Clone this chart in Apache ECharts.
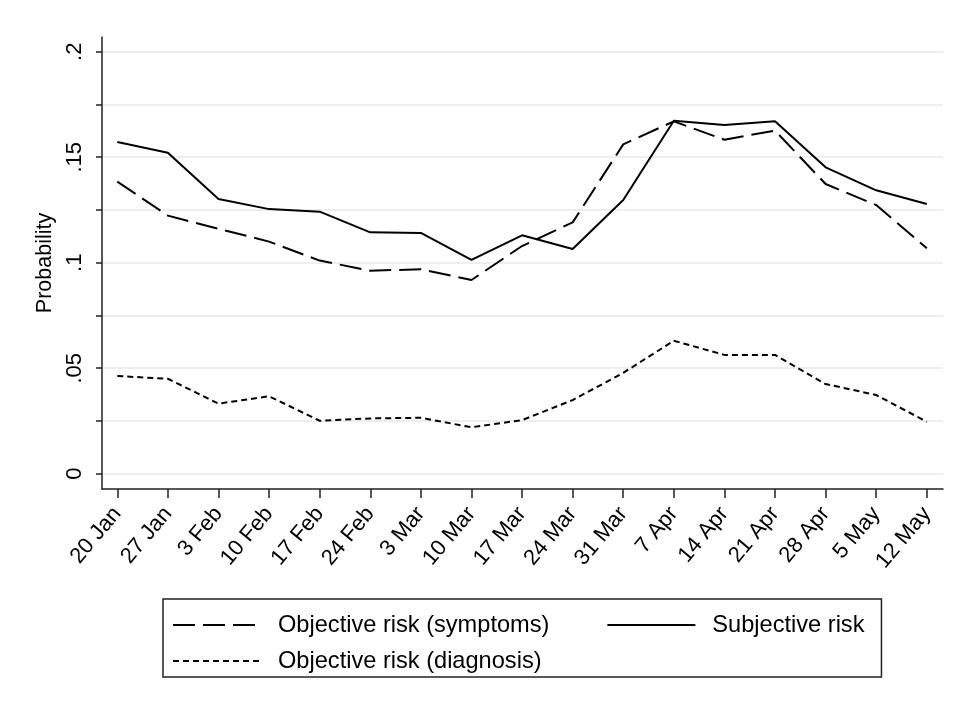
<!DOCTYPE html>
<html lang="en">
<head>
    <meta charset="UTF-8">
    <script src="https://cdn.jsdelivr.net/npm/echarts@6.0.0/dist/echarts.min.js"></script>
    <title>Probability by week</title>
    <style>
        html, body { margin: 0; padding: 0; background: #fff; }
        #main { width: 959px; height: 711px; }
    </style>
</head>
<body>
    <div id="main"></div>
    <script type="text/javascript">
        // weeks on the x axis
        let weeks = ['20 Jan', '27 Jan', '3 Feb', '10 Feb', '17 Feb', '24 Feb', '3 Mar', '10 Mar', '17 Mar',
            '24 Mar', '31 Mar', '7 Apr', '14 Apr', '21 Apr', '28 Apr', '5 May', '12 May'];

        let symptoms = [0.1384, 0.1223, 0.1161, 0.1100, 0.1010, 0.0962, 0.0969, 0.0918, 0.1079,
            0.1191, 0.1561, 0.1670, 0.1583, 0.1626, 0.1373, 0.1273, 0.1068];
        let subjective = [0.1572, 0.1521, 0.1302, 0.1254, 0.1242, 0.1144, 0.1141, 0.1013, 0.1130,
            0.1065, 0.1297, 0.1673, 0.1653, 0.1670, 0.1452, 0.1343, 0.1278];
        let diagnosis = [0.0463, 0.0450, 0.0332, 0.0367, 0.0251, 0.0262, 0.0265, 0.0220, 0.0254,
            0.0349, 0.0478, 0.0630, 0.0563, 0.0563, 0.0425, 0.0373, 0.0246];

        let yLabels = [0, 0.05, 0.1, 0.15, 0.2];
        let yTicks = [0, 0.025, 0.05, 0.075, 0.1, 0.125, 0.15, 0.175, 0.2];

        let font = "'Liberation Sans', Arial, sans-serif";
        let names = ['Objective risk (symptoms)', 'Subjective risk', 'Objective risk (diagnosis)'];

        function pairs(arr) {
            return arr.map(function (v, i) { return [i, v]; });
        }

        function yFmt(v) {
            if (v === 0) return '0';
            return String(+v.toFixed(3)).replace(/^0/, '');
        }

        let myChart = echarts.init(document.getElementById('main'), null, { renderer: 'canvas' });

        let legendText = { fontSize: 23.6, color: '#000', fontFamily: font, padding: [0, 0, 0, 12] };

        let option = {
            backgroundColor: '#fff',
            animation: false,
            textStyle: { fontFamily: font },
            grid: { left: 102, right: 16, top: 37, bottom: 222, containLabel: false },
            xAxis: {
                type: 'value',
                min: -0.302,
                max: 16.32,
                axisLine: { onZero: false, lineStyle: { color: '#222', width: 1.5 } },
                axisTick: {
                    customValues: weeks.map(function (w, i) { return i; }),
                    length: 9,
                    lineStyle: { color: '#222', width: 1.5 }
                },
                axisLabel: {
                    customValues: weeks.map(function (w, i) { return i; }),
                    rotate: 50,
                    margin: 21,
                    fontSize: 22,
                    color: '#000',
                    fontFamily: font,
                    formatter: function (v) { return weeks[Math.round(v)]; }
                },
                splitLine: { show: false }
            },
            yAxis: {
                type: 'value',
                min: -0.00725,
                max: 0.20697,
                name: 'Probability',
                nameLocation: 'middle',
                nameGap: 42,
                nameTextStyle: { fontSize: 21.5, color: '#000', fontFamily: font },
                axisLine: { show: true, onZero: false, lineStyle: { color: '#222', width: 1.5 } },
                axisTick: {
                    show: true,
                    customValues: yTicks,
                    length: 6,
                    lineStyle: { color: '#222', width: 1.5 }
                },
                axisLabel: {
                    customValues: yLabels,
                    rotate: 90,
                    margin: 16,
                    fontSize: 22,
                    color: '#000',
                    fontFamily: font,
                    formatter: yFmt
                },
                splitLine: { show: true, lineStyle: { color: '#e9e9e9', width: 1.5 } }
            },
            legend: [{
                data: [names[0], names[1]],
                left: 163,
                top: 599,
                width: 720,
                orient: 'horizontal',
                padding: [14, 17, 40, 9],
                itemGap: 57,
                itemWidth: 88,
                itemHeight: 14,
                itemStyle: { opacity: 0 },
                borderColor: '#222',
                borderWidth: 1.5,
                borderRadius: 0,
                textStyle: legendText
            }, {
                data: [names[2]],
                left: 172,
                top: 649,
                padding: 0,
                itemWidth: 88,
                itemHeight: 14,
                itemStyle: { opacity: 0 },
                textStyle: legendText
            }],
            series: [{
                name: names[0],
                type: 'line',
                data: pairs(symptoms),
                symbol: 'none',
                lineStyle: { color: '#000', width: 2, type: [22, 8] },
                itemStyle: { color: '#000' }
            }, {
                name: names[1],
                type: 'line',
                data: pairs(subjective),
                symbol: 'none',
                lineStyle: { color: '#000', width: 2, type: 'solid' },
                itemStyle: { color: '#000' }
            }, {
                name: names[2],
                type: 'line',
                data: pairs(diagnosis),
                symbol: 'none',
                lineStyle: { color: '#000', width: 2, type: [6, 4] },
                itemStyle: { color: '#000' }
            }]
        };

        myChart.setOption(option);
    </script>
</body>
</html>
